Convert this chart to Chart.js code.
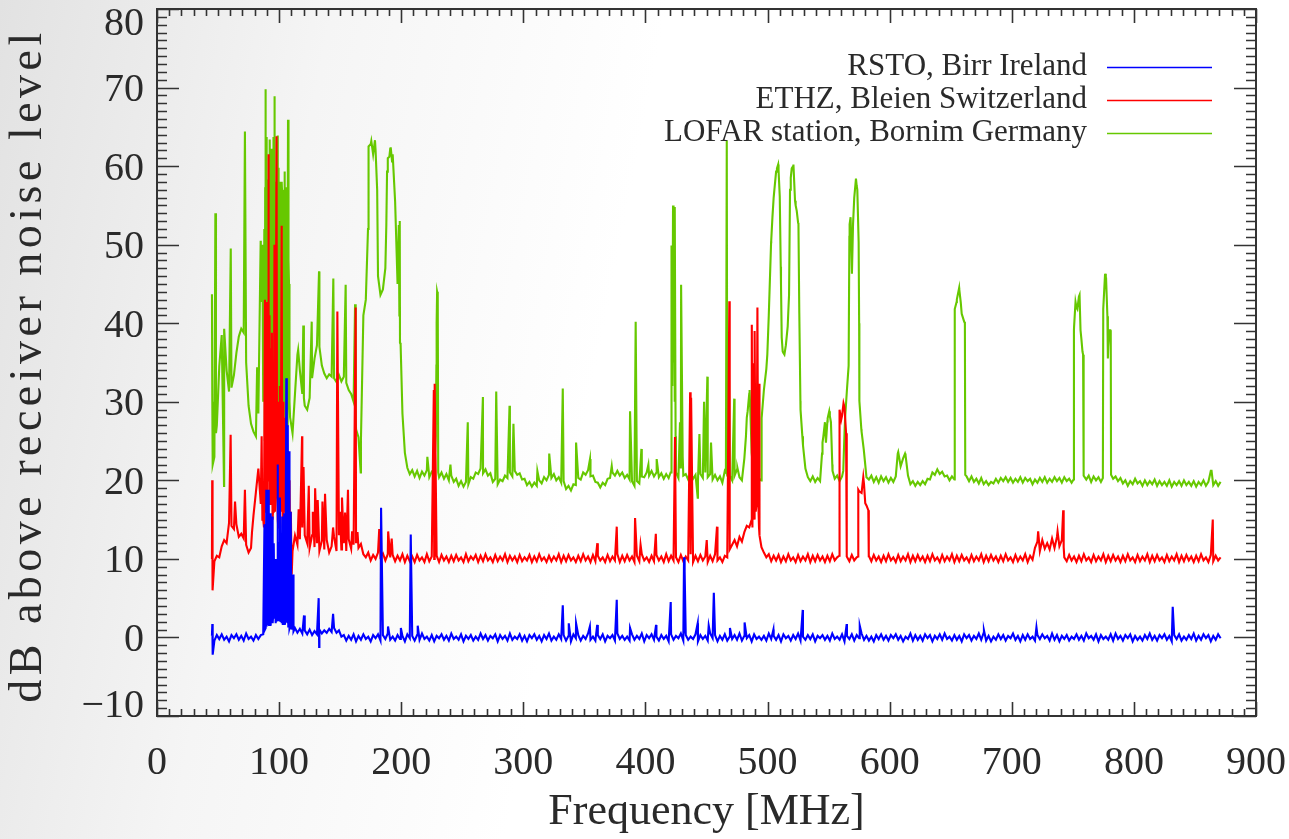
<!DOCTYPE html>
<html>
<head>
<meta charset="utf-8">
<title>RFI spectra</title>
<script src="https://cdn.jsdelivr.net/npm/chart.js@4.4.1/dist/chart.umd.min.js"></script>
<style>
  html, body { margin: 0; padding: 0; background: #fff; }
  #wrap { width: 1289px; height: 839px; }
</style>
</head>
<body>
<div id="wrap"><canvas id="myChart" width="1289" height="839"></canvas></div>
<script>
var stations = ["RSTO, Birr Ireland", "ETHZ, Bleien Switzerland", "LOFAR station, Bornim Germany"];
var lineColors = ["#0000ff", "#ff0000", "#66c800"];
var freqTicks = [0, 100, 200, 300, 400, 500, 600, 700, 800, 900];
var dbTicks = [-10, 0, 10, 20, 30, 40, 50, 60, 70, 80];
var xAxisTitle = "Frequency [MHz]";
var yAxisTitle = "dB above receiver noise level";

// sweep channels: 45, 47, 49 ... 871 MHz
var gridStart = 45, gridStep = 2;

// levels (dB), one per channel, 10 channels (20 MHz) per row
var rstoLevel = [
  0.2,-0.4,0.3,-0.2,0.4,-0.3,0.1,-0.5,0.3,-0.1,
  0.4,-0.3,0.2,-0.4,0.5,-0.2,0.1,-0.4,0.3,-0.2,
  0.3,0.4,1.2,2.0,1.5,2.5,1.8,3.0,2.2,1.6,
  2.0,1.8,1.5,1.0,1.2,0.6,1.1,0.5,0.9,0.4,
  1.0,0.3,0.8,0.4,1.0,0.5,0.9,0.6,1.1,0.7,
  1.2,0.6,0.9,0.1,0.3,-0.4,0.2,-0.3,0.4,-0.5,
  0.2,-0.3,0.4,-0.2,0.1,-0.5,0.3,-0.1,0.4,-0.4,
  0.3,-0.2,0.5,-0.3,0.1,-0.4,0.3,-0.2,0.2,-0.5,
  0.4,-0.1,0.2,-0.4,0.3,-0.3,0.5,-0.2,0.1,-0.4,
  0.3,-0.5,0.2,-0.1,0.4,-0.3,0.2,-0.4,0.5,-0.2,
  0.1,-0.3,0.4,-0.5,0.2,-0.2,0.3,-0.4,0.1,-0.3,
  0.5,-0.2,0.3,-0.4,0.2,-0.1,0.4,-0.5,0.3,-0.2,
  0.2,-0.4,0.5,-0.3,0.1,-0.2,0.4,-0.4,0.2,-0.5,
  0.3,-0.1,0.4,-0.3,0.2,-0.5,0.3,-0.2,0.5,-0.4,
  0.1,-0.3,0.4,-0.2,0.3,-0.4,0.2,-0.5,0.4,-0.1,
  0.3,-0.4,0.2,-0.2,0.5,-0.3,0.1,-0.4,0.3,-0.2,
  0.4,-0.5,0.2,-0.1,0.3,-0.4,0.5,-0.2,0.2,-0.3,
  0.1,-0.4,0.4,-0.3,0.2,-0.2,0.5,-0.5,0.3,-0.1,
  0.4,-0.3,0.1,-0.4,0.3,-0.2,0.2,-0.5,0.4,-0.3,
  0.2,-0.1,0.5,-0.4,0.3,-0.3,0.1,-0.2,0.4,-0.5,
  0.3,-0.2,0.2,-0.4,0.5,-0.1,0.3,-0.5,0.2,-0.3,
  0.4,-0.4,0.1,-0.2,0.3,-0.3,0.5,-0.4,0.2,-0.1,
  0.3,-0.5,0.4,-0.2,0.1,-0.3,0.2,-0.4,0.5,-0.2,
  0.2,-0.3,0.3,-0.5,0.4,-0.1,0.2,-0.4,0.3,-0.2,
  0.5,-0.4,0.1,-0.3,0.3,-0.2,0.4,-0.5,0.2,-0.1,
  0.3,-0.3,0.2,-0.4,0.5,-0.2,0.1,-0.3,0.4,-0.5,
  0.2,-0.2,0.4,-0.4,0.3,-0.1,0.5,-0.3,0.2,-0.4,
  0.1,-0.5,0.3,-0.2,0.4,-0.3,0.2,-0.4,0.3,-0.1,
  0.4,-0.3,0.2,-0.5,0.1,-0.2,0.5,-0.4,0.3,-0.3,
  0.2,-0.4,0.4,-0.1,0.3,-0.5,0.2,-0.2,0.4,-0.3,
  0.5,-0.2,0.1,-0.4,0.3,-0.3,0.2,-0.5,0.4,-0.1,
  0.3,-0.4,0.2,-0.2,0.5,-0.3,0.6,-0.4,0.2,-0.5,
  0.1,-0.3,0.4,-0.2,0.3,-0.4,0.2,-0.1,0.5,-0.3,
  0.2,-0.5,0.3,-0.3,0.4,-0.2,0.1,-0.4,0.3,-0.2,
  0.4,-0.1,0.2,-0.4,0.5,-0.3,0.3,-0.5,0.2,-0.2,
  0.3,-0.4,0.1,-0.2,0.4,-0.3,0.2,-0.4,0.5,-0.1,
  0.2,-0.3,0.4,-0.5,0.3,-0.2,0.1,-0.3,0.4,-0.4,
  0.5,-0.2,0.2,-0.4,0.3,-0.1,0.4,-0.5,0.2,-0.3,
  0.1,-0.4,0.3,-0.2,0.5,-0.3,0.2,-0.4,0.3,-0.1,
  0.4,-0.3,0.2,-0.5,0.3,-0.2,0.4,-0.4,0.1,-0.3,
  0.3,-0.2,0.5,-0.4,0.2,-0.3,0.4,-0.1,0.3,-0.5,
  0.2,-0.3,0.4,-0.1
];
// narrow lines between channels: [MHz, dB]
var rstoPeaks = [
  [45.3,1.7],[45.6,-2.2],
  [88.0,14.4],[88.4,1.0],[89.5,18.8],[89.8,1.4],[90.4,7],[90.8,1.6],[91.5,18.8],[91.8,1.6],[92.4,9],
  [92.8,15.8],[93.2,2.2],[93.8,5],[94.3,15.4],[94.7,1.8],[95.4,8],[95.8,12],[96.2,2.4],[96.8,4],[97.4,10],
  [97.7,2],[98.3,6],[98.8,22],[99.3,2.2],[99.7,5],[100.3,12],[100.7,17.8],[101.2,2],[101.7,8],[102.1,1.8],
  [102.6,15.4],[103.2,2.5],[103.6,7],[104.2,15.8],[104.6,1.6],[105.3,9],[105.9,33],[106.3,2],[106.7,12],
  [107.2,27],[107.5,1.4],[107.8,8],[108.1,23.7],[108.5,1.2],[109.3,5],[109.7,16],[110.1,1.0],[110.6,3],
  [111.4,8],[111.8,0.8],
  [120.4,2.8],[132.4,5.0],[132.8,-1.2],[144.2,3.0],
  [183.5,16.5],[189.2,1.4],[199.7,1.2],[207.8,13.1],[213.5,1.5],
  [332.3,4.1],[337.2,1.8],[343.2,1.8],[354.5,1.4],[360.5,1.6],[376.5,4.8],[387.4,1.2],[408.7,1.6],
  [420.7,4.5],[431.6,10.2],[431.9,0.5],[432.3,8.4],[442.8,1.8],[451.8,1.5],[456,5.7],[469.2,1.2],
  [481.2,1.9],[504.8,1.0],[528.8,3.5],[564.8,1.7],[575.5,1.5],[677.2,0.9],[720.2,1.3],[831.8,3.9]
];

var ethzLevel = [
  10.0,9.7,10.4,10.2,11.6,12.4,12.0,14.6,14.2,13.8,
  14.4,12.8,13.2,12.6,11.8,10.8,11.4,15.5,18.5,21.5,
  17,15,18,20,22,16,19,15,18,14,
  16,13,12,11,13,11.8,12.5,14,13,12,
  11.4,13,11.5,12,11,12.3,11.2,12.4,10.8,11.6,
  12.8,11,13,11.2,12,11,12.5,11.3,11.8,12,
  11.4,11.9,10.6,10.2,10.8,9.8,10.5,10.0,10.8,10.3,
  10.7,9.8,10.6,10.2,10.5,9.7,10.4,9.8,10.6,9.6,
  10.4,9.7,10.3,9.6,10.5,9.8,10.2,9.6,10.6,9.7,
  10.3,10.0,10.4,9.6,10.5,9.8,10.3,9.6,10.4,9.7,
  10.5,9.8,10.2,9.6,10.6,9.7,10.3,9.9,10.5,9.6,
  10.4,9.7,10.6,9.8,10.2,9.6,10.5,9.7,10.3,9.8,
  10.6,9.6,10.4,9.8,10.3,9.6,10.5,9.7,10.2,9.8,
  10.5,9.6,10.3,9.7,10.6,9.8,10.2,9.6,10.4,9.7,
  10.3,9.8,10.6,9.6,10.4,9.7,10.5,9.8,10.2,9.6,
  10.4,9.7,10.6,9.8,10.3,9.6,10.5,9.7,10.4,9.8,
  10.2,9.6,10.5,9.7,10.3,9.8,10.6,9.6,10.4,9.7,
  10.5,9.8,10.3,9.6,10.4,9.7,10.6,9.8,10.2,9.6,
  10.4,9.7,10.5,9.8,10.3,9.6,10.6,9.7,10.4,9.8,
  10.2,9.6,10.5,9.7,10.3,9.8,10.6,9.6,10.4,9.7,
  10.5,9.8,10.3,9.6,10.4,9.7,10.6,9.8,10.2,9.6,
  10.4,10.2,11.2,11.8,12.4,11.6,12.8,12.2,13.4,14.2,
  14.0,15,16,17,14,11.5,10.8,10.2,10.6,9.7,
  10.4,9.8,10.5,9.6,10.3,9.7,10.6,9.8,10.2,9.6,
  10.5,9.7,10.3,9.8,10.6,9.6,10.4,9.7,10.5,9.8,
  10.3,9.6,10.4,9.7,10.6,9.8,10.2,29,28.2,29.3,
  10.3,9.7,10.5,9.8,10.2,18.6,18.4,19.5,16.8,10.4,
  9.7,10.5,9.8,10.3,9.6,10.4,9.7,10.6,9.8,10.2,
  9.6,10.5,9.7,10.3,9.8,10.6,9.6,10.4,9.7,10.5,
  9.8,10.3,9.6,10.4,9.7,10.6,9.8,10.2,9.6,10.5,
  9.7,10.3,9.8,10.6,9.6,10.4,9.7,10.5,9.8,10.2,
  9.6,10.5,9.7,10.3,9.8,10.6,9.6,10.4,9.7,10.5,
  9.8,10.3,9.6,10.4,9.7,10.6,9.8,10.2,9.6,10.5,
  9.7,10.3,9.8,10.6,9.6,10.4,9.9,11.4,12.2,11.0,
  12.4,11.3,12.0,11.2,12.6,11.4,12.8,11.6,12.4,10.2,
  9.7,10.5,9.8,10.3,9.6,10.4,9.7,10.6,9.8,10.2,
  9.6,10.5,9.7,10.3,9.8,10.6,9.6,10.4,9.7,10.5,
  9.8,10.3,9.6,10.4,9.7,10.6,9.8,10.2,9.6,10.5,
  9.7,10.3,9.8,10.6,9.6,10.4,9.7,10.5,9.8,10.2,
  9.6,10.5,9.7,10.3,9.8,10.6,9.6,10.4,9.7,10.5,
  9.8,10.3,9.6,10.4,9.7,10.6,9.8,10.2,9.6,10.5,
  9.7,10.4,9.8,10.2
];
var ethzPeaks = [
  [45.2,20.0],[45.5,6.0],
  [60.3,25.8],[63.9,17.3],[72,18.8],[77.8,13.4],[85.7,25.6],
  [86.3,15],[87.6,14],[88.4,43],[88.8,16],[89.4,30],[89.8,42.7],[90.2,18],[90.7,35],[91.2,61.5],[91.6,20],
  [92.1,41],[92.6,17],[93.1,36.8],[93.5,22],[94.1,38.8],[94.6,15],[95.4,28],[95.8,19],[96.2,50],[96.6,16],
  [97.3,35],[97.9,63.8],[98.3,20],[98.8,30],[99.3,14],[99.6,28],[100.1,18],[100.6,32],[101.1,24],
  [101.5,16],[102.1,52.4],[102.5,21],[103.2,30],[103.5,14],[104.1,26],[104.6,18],[105.2,28],[105.7,15],
  [106.2,23],[106.8,13],[107.4,22],[107.9,14],[108.5,20],[109.6,16],[110.3,8.0],
  [116,16.3],[118.8,25.6],[120,21.7],[124.3,19.3],[127.6,16],[129.5,19],[131.6,17.5],[135.5,17.3],
  [137.6,18.3],[144.2,14],[147.7,41.5],[149.8,16],[151.5,17.8],[154,15.9],[156.4,18.8],[159.8,13.5],
  [162.7,42],[164.2,13.4],
  [182,13.8],[189.3,13.5],[192.2,12.6],
  [226.7,31.5],[227.2,10.0],[227.6,32.3],
  [360.6,12.0],[376.5,14.1],[391.5,15.2],[396,11.8],[408.5,13.2],[424.2,25.5],[436.6,31.2],[437.4,30.5],
  [450.2,12.4],[458.6,14.1],[468.7,42.8],
  [487.1,39.8],[487.6,14],[488.5,34.9],[489.1,15],[489.7,39],[490.3,16],[491.7,42],[492.3,18],[493.2,32.3],
  [493.6,13],
  [558.7,10.4],[558.9,28.5],[560.3,27.7],[562.2,29.8],[564.3,26],[564.7,10.5],
  [574.1,10.3],[574.3,18.8],[578.4,20.4],[580,17.1],[582.5,16.2],[582.8,10.2],
  [721.6,13.5],[737.5,13.5],[742.1,16.2],[742.5,11.5],[864.6,15.0]
];

var lofarLevel = [
  43.7,23,27,34.5,38.5,39.3,34,31.3,31.8,33.4,
  36.2,38.3,39.3,38.8,35,29.5,27.2,26.2,25.6,28.5,
  44,30,30,28,30,33,28,29,31,28,
  31,29,28,26,31,36,34,31,29.5,29,
  30.5,33,35.5,37.2,37,34.6,33.6,33,33.5,33.2,
  33,32.5,33.4,32.6,33.2,32.4,31.5,31,30,26.5,
  25.5,25,41,43,56,62.8,61.5,62,46,43.6,
  44.3,47,61,62.2,61.5,55.5,45,37.5,28.5,23.5,
  21.6,20.8,21.3,20.5,21.2,20.3,21.1,20.6,21.3,20.4,
  21.1,21.5,40,20.4,21.0,20.2,20.8,20.0,20.6,19.8,
  20.2,19.3,19.9,19.2,19.8,19.5,20.4,20.2,21.0,20.8,
  21.5,20.9,21.4,20.6,20.9,19.8,20.2,19.5,20.1,19.9,
  20.6,20.3,21.0,20.5,21.2,20.7,20.9,20.1,20.2,19.4,
  19.8,19.2,19.7,19.3,20.0,19.6,20.4,20.0,20.7,20.3,
  20.8,20.0,20.4,19.7,19.9,18.9,19.3,18.7,19.5,19.4,
  20.3,20.1,21.0,20.7,21.3,20.5,20.6,19.8,19.7,19.1,
  19.7,19.4,20.2,20.3,21.0,20.6,21.2,20.6,21.0,20.3,
  20.7,20.1,19.9,19.3,19.9,19.6,20.5,20.4,21.0,20.6,
  21.2,20.5,21.0,20.4,20.9,20.2,20.8,20.3,21.0,35,
  21.0,20.3,21.5,20.6,20.8,20.1,20.9,20.2,20.7,19.8,
  20.8,20.3,21.0,20.4,20.8,20.1,20.7,20.0,20.5,19.7,
  21.2,20.5,20.6,20.0,20.6,21.4,20.4,20.0,22.8,28,
  31,23.5,20.2,19.6,20.2,26.5,31.5,34.2,41,50.5,
  56,59.3,59.5,45,36.2,37.2,41.5,58.5,60,55,
  52.8,29,24.5,21.5,20.4,19.9,20.5,19.8,20.3,19.9,
  24.8,27.4,27.5,28.2,22,20.2,20.6,19.9,20.5,26,
  31.5,51,47,56,57.5,40,26.2,23.6,20.4,20.1,
  20.6,19.8,20.4,19.7,20.5,19.9,20.4,19.7,20.3,19.8,
  20.5,23.6,21.8,22.8,23.2,20.6,19.5,19.9,19.3,19.8,
  19.4,19.9,19.5,20.2,20.1,21.0,20.7,21.4,20.8,21.1,
  20.5,20.6,20.0,20.5,20.1,43,44.3,41.2,40.2,20.5,
  19.9,20.5,19.8,20.2,19.6,20.3,19.5,19.9,19.4,19.8,
  19.6,20.2,19.7,20.3,19.9,20.4,19.8,20.3,19.7,20.2,
  19.8,20.4,19.7,20.3,19.9,20.2,19.5,20.1,19.7,20.3,
  19.8,20.4,19.7,20.2,19.8,20.4,19.9,20.3,19.7,20.4,
  19.9,20.2,19.7,39.5,42,43.4,38,20.6,20.1,20.6,
  19.8,20.5,20.0,20.4,19.8,41.8,45.5,37,39,20.2,
  20.5,19.9,20.3,19.6,20.0,19.3,19.9,19.5,20.2,19.6,
  19.9,19.3,20.0,19.4,19.9,19.5,20.1,19.3,19.9,19.4,
  19.8,19.3,20.0,19.2,19.8,19.4,19.9,19.3,20.0,19.4,
  19.8,19.3,19.9,19.2,19.8,19.4,20.0,19.3,19.8,21.2,
  19.4,19.9,19.3,19.8
];
var lofarPeaks = [
  [45.3,30],[45.6,22],[47.8,54.0],[48.3,26],[54.9,19.3],[60.4,49.5],[72,64.4],[82,34.4],[84.9,50.5],
  [85.5,42.7],[86.3,50],
  [87.9,52],[88.3,25],[88.6,57.3],[88.9,69.8],[89.3,28],[89.6,63.7],[90,26],[90.3,55],[90.7,30],[91.2,58.3],
  [91.5,27],[91.8,48],[92.1,31],[92.5,63.4],[92.8,26],[93.2,55.9],[93.4,58],[93.6,30],[93.9,62.2],[94.1,56],
  [94.3,27],[94.5,60],[94.7,52],[94.9,55],[95.2,63.7],[95.4,30],[95.6,28],[95.9,57],[96,50],[96.2,31],
  [96.4,68.9],[96.6,60],[96.8,30],[97.1,52],[97.2,55.9],[97.5,27],[97.7,58],[97.9,50.5],[98.0,55],
  [98.2,32],[98.5,57],[98.8,63.9],[99.1,52],[99.2,28],[99.5,55],[99.7,56],[99.9,59.8],[100.2,29],
  [100.4,54],[100.6,52],[100.8,58],[100.9,31],[101.3,57.8],[101.5,56],[101.7,27],[101.9,53],[102.1,50],
  [102.3,58],[102.6,55.9],[102.9,55],[103.2,52],[103.4,56],[103.6,28],[103.9,54],[104.1,57],[104.3,59.3],
  [104.6,31],[104.8,55],[105.2,50],[105.35,56],[105.5,26],[105.65,53],[105.8,57.3],[106.1,30],[106.3,52],
  [106.4,54],[106.7,27],[106.9,55],[107.1,50],[107.3,65.9],[107.6,32],[107.8,48],[108.1,45],[108.5,30],
  [115.6,36.6],[119.8,39.7],[120.3,30.5],[126.7,40.2],[127.2,33],[132.7,46.6],[144.4,45.7],[154.5,44.9],
  [162.2,42.4],[162.7,28],[166.8,21],[172.8,52],[173.5,62.5],[175.5,63.2],[178.5,63.3],[180.3,57],
  [187.8,52.5],[188.4,59.3],[190.3,61.2],[191.4,62.4],[192.5,60.6],[198,52.5],[198.5,41],[198.8,53],
  [199.5,37.3],
  [221.4,23.0],[228.3,25.6],[228.8,34.6],[229.4,44.0],[229.9,43.6],[230.3,21],[240.3,22],[254.5,27.4],
  [266.9,30.6],[277.8,31.3],[288.7,29.5],[291.9,27.2],[311.5,21.2],[321.2,23.4],[332.3,31.7],[343.2,24.8],
  [354.6,22.7],[372.4,21.8],[387.4,28.8],[392,40.2],[396.7,24.0],[402.4,22],[409.2,22.7],
  [420.6,21],[421.2,30.4],[421.5,49.9],[422,32],[422.6,55],[423.4,51.2],[423.8,30],[424.2,54.8],[424.7,25.6],
  [428.3,27.4],[429.2,44.9],[430.5,23],[442.8,17.8],[444.2,25.9],[447.5,25],[448,30],[450.7,33.2],
  [453.7,24.8],
  [465.9,21],[466.6,63.3],[467.1,20.5],[468.4,33.7],[472.7,30.4],[475.3,21.6],
  [482.3,25.6],[483.7,28.8],[485.3,31.5],[486.1,27.9],
  [494.8,20],[495.3,27.9],[499.8,36],[502.9,50.3],[504,53.5],[505.6,57],[507.7,59.7],[508.7,60.2],[510,56.1],
  [510.8,47.2],[511.6,38.2],[512.4,36.4],[513.8,36],[516.5,39.6],[517.6,43.6],[518.4,57],[519.8,59.7],
  [521.2,60.2],[522.5,55.6],[523.9,54.3],[525.3,52.6],[526,41.3],[526.9,30.1],[528.5,25.6],
  [544.6,23.4],[545.7,25.6],[547.8,24.8],[549.2,27.9],[550.5,28.8],[551.9,27.4],[553.2,21.2],
  [562,21.2],[563.5,27.9],[566.4,34.6],[567.2,52.6],[568,53.5],[569.1,46.3],[570,52.6],[572.4,58.4],
  [573.5,57],[574.6,50.3],[575.2,30.1],[576.8,26.5],[578.8,23.9],
  [606.6,23.4],[612.6,23.4],
  [653.2,20.2],[653.4,41.8],[654.8,42.7],[656.9,44.5],[658.2,42.7],[659.6,40.9],[661.6,40],[661.9,20.7],
  [750.6,20.1],[750.9,39.1],[752.2,42.7],[753.7,41.8],[755.5,43.6],[756.3,39.1],[757.9,36.4],[758.4,36],
  [758.7,20.7],
  [774.6,20.3],[774.9,41.8],[776.4,46.3],[777.2,45.8],[778.3,40.9],[778.7,35.5],[780,39.1],[780.8,39.1],
  [781.1,39],[781.3,20.7],
  [863.6,21.2]
];

var levels = [rstoLevel, ethzLevel, lofarLevel];
var peaks = [rstoPeaks, ethzPeaks, lofarPeaks];

function buildSeries(level, extra) {
  var pts = level.map(function (v, i) { return {x: gridStart + i * gridStep, y: v}; });
  extra.forEach(function (p) { pts.push({x: p[0], y: p[1]}); });
  pts.sort(function (a, b) { return a.x - b.x; });
  return pts;
}

var serif = "'Liberation Serif', 'Times New Roman', serif";
var textColor = "#2a2a2a";

// soft grey wash behind everything, like the original slide
var wash = {
  id: "wash",
  beforeDraw: function (chart) {
    var ctx = chart.ctx;
    var g = ctx.createLinearGradient(0, 0, chart.width, chart.height * 0.3);
    g.addColorStop(0, "#e2e2e2");
    g.addColorStop(0.25, "#f5f5f5");
    g.addColorStop(0.5, "#ffffff");
    g.addColorStop(1, "#ffffff");
    ctx.save();
    ctx.fillStyle = g;
    ctx.fillRect(0, 0, chart.width, chart.height);
    ctx.restore();
  }
};

// box around the plot with inward ticks on all four sides
var frameTicks = {
  id: "frameTicks",
  afterDatasetsDraw: function (chart) {
    var ctx = chart.ctx, a = chart.chartArea;
    var x = chart.scales.x, y = chart.scales.y;
    ctx.save();
    ctx.strokeStyle = "#333";
    ctx.lineWidth = 2;
    ctx.strokeRect(a.left, a.top, a.right - a.left, a.bottom - a.top);
    ctx.lineWidth = 1.6;
    ctx.beginPath();
    for (var f = x.min; f <= x.max; f += 10) {
      var px = Math.round(x.getPixelForValue(f)) + 0.5;
      var lx = (f % 100 === 0) ? 14 : 7;
      ctx.moveTo(px, a.bottom); ctx.lineTo(px, a.bottom - lx);
      ctx.moveTo(px, a.top); ctx.lineTo(px, a.top + lx);
    }
    for (var d = y.min; d <= y.max; d += 1) {
      var py = Math.round(y.getPixelForValue(d)) + 0.5;
      var ly = (d % 10 === 0) ? 22 : 10;
      ctx.moveTo(a.left, py); ctx.lineTo(a.left + ly, py);
      ctx.moveTo(a.right, py); ctx.lineTo(a.right - ly, py);
    }
    ctx.stroke();
    ctx.restore();
  }
};

// rotated y title, slightly letter-spaced like the plotting font
var yTitle = {
  id: "yTitle",
  afterDraw: function (chart) {
    var ctx = chart.ctx, a = chart.chartArea;
    ctx.save();
    ctx.translate(29, (a.top + a.bottom) / 2 + 3);
    ctx.rotate(-Math.PI / 2);
    ctx.font = "46px " + serif;
    if ("letterSpacing" in ctx) ctx.letterSpacing = "4.5px";
    ctx.textAlign = "center";
    ctx.textBaseline = "middle";
    ctx.fillStyle = textColor;
    ctx.fillText(yAxisTitle, 0, 0);
    ctx.restore();
  }
};

// legend: label text on the left, line sample on the right
var lineLegend = {
  id: "lineLegend",
  afterDraw: function (chart) {
    var ctx = chart.ctx, a = chart.chartArea;
    var textRight = a.right - 169, lineStart = a.right - 149, lineEnd = a.right - 44;
    ctx.save();
    ctx.font = "31px " + serif;
    ctx.textAlign = "right";
    ctx.textBaseline = "middle";
    chart.data.datasets.forEach(function (ds, i) {
      var yy = a.top + 58 + i * 33;
      ctx.fillStyle = textColor;
      ctx.fillText(ds.label, textRight, yy);
      ctx.strokeStyle = ds.borderColor;
      ctx.lineWidth = 1.5;
      ctx.beginPath();
      ctx.moveTo(lineStart, yy + 0.5);
      ctx.lineTo(lineEnd, yy + 0.5);
      ctx.stroke();
    });
    ctx.restore();
  }
};

function noPad(s) { s.paddingLeft = 0; s.paddingRight = 0; s.paddingTop = 0; s.paddingBottom = 0; }

new Chart("myChart", {
  type: "line",
  data: {
    datasets: levels.map(function (lv, i) {
      return {
        label: stations[i],
        data: buildSeries(lv, peaks[i]),
        borderColor: lineColors[i],
        borderWidth: 2.1,
        pointRadius: 0,
        tension: 0,
        fill: false
      };
    })
  },
  options: {
    responsive: false,
    animation: false,
    events: [],
    layout: {padding: {top: 9, right: 33, left: 0, bottom: 0}},
    plugins: {
      legend: {display: false},
      tooltip: {enabled: false}
    },
    scales: {
      x: {
        type: "linear",
        min: 0,
        max: 900,
        afterBuildTicks: function (s) { s.ticks = freqTicks.map(function (v) { return {value: v}; }); },
        afterFit: function (s) { s.height = 123; noPad(s); },
        grid: {display: false, drawTicks: false},
        border: {display: false},
        ticks: {
          autoSkip: false,
          maxRotation: 0,
          padding: 23,
          color: textColor,
          font: {family: serif, size: 40}
        },
        title: {
          display: true,
          text: xAxisTitle,
          color: textColor,
          font: {family: serif, size: 44, lineHeight: 1},
          padding: {top: 0, bottom: 5}
        }
      },
      y: {
        type: "linear",
        min: -10,
        max: 80,
        afterBuildTicks: function (s) { s.ticks = dbTicks.map(function (v) { return {value: v}; }); },
        afterFit: function (s) { s.width = 157; noPad(s); },
        grid: {display: false, drawTicks: false},
        border: {display: false},
        ticks: {
          autoSkip: false,
          padding: 13,
          labelOffset: 3,
          color: textColor,
          font: function (c) {
            var edge = c.tick && (c.tick.value === 80 || c.tick.value === -10);
            return {family: serif, size: 40, lineHeight: edge ? 0.62 : 1.2};
          },
          callback: function (v) {
            if (v === -10) return ["\u221210", ""];
            if (v === 80) return ["", "80"];
            return String(v);
          }
        },
        title: {display: false}
      }
    }
  },
  plugins: [wash, frameTicks, yTitle, lineLegend]
});
</script>
</body>
</html>
